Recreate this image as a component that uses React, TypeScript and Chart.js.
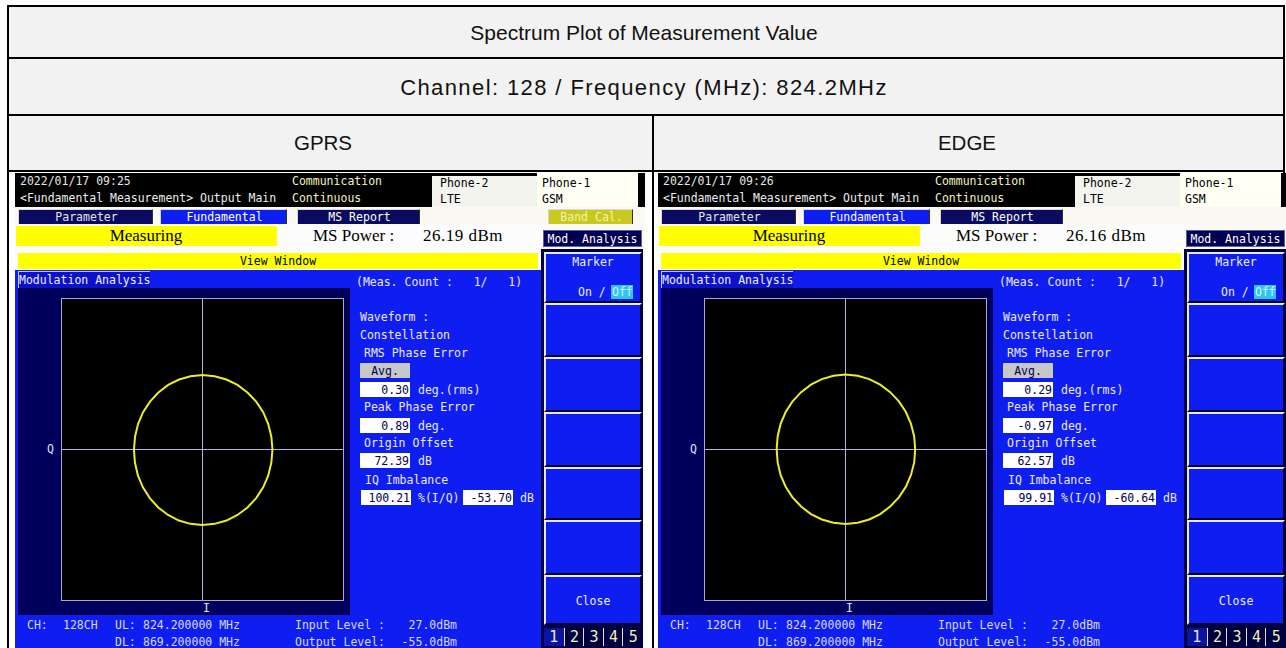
import React, { useEffect, useRef } from "react";
import { Chart, registerables } from "chart.js";
Chart.register(...registerables);

// ---------- data ----------
const tableTitle = "Spectrum Plot of Measurement Value";
const tableSubtitle = "Channel: 128 / Frequency (MHz): 824.2MHz";
const modes = ["GPRS", "EDGE"];
const timestamps = ["2022/01/17 09:25", "2022/01/17 09:26"];
const msPower = ["26.19", "26.16"];
const rmsPhaseError = ["0.30", "0.29"];
const peakPhaseError = ["0.89", "-0.97"];
const originOffset = ["72.39", "62.57"];
const iqImbalancePct = ["100.21", "99.91"];
const iqImbalanceDb = ["-53.70", "-60.64"];
const showBandCal = [true, false];
const pageNumbers = ["1", "2", "3", "4", "5"];

const gprsI = [0.498, 0.490, 0.468, 0.432, 0.382, 0.320, 0.249, 0.170, 0.086, 0.000, -0.085, -0.167, -0.244, -0.314, -0.374, -0.423, -0.459, -0.480, -0.488, -0.481, -0.460, -0.424, -0.375, -0.315, -0.245, -0.168, -0.086, 0.000, 0.087, 0.171, 0.249, 0.320, 0.382, 0.432, 0.468, 0.490, 0.498];
const gprsQ = [0.000, 0.086, 0.169, 0.248, 0.318, 0.379, 0.429, 0.465, 0.487, 0.495, 0.487, 0.465, 0.429, 0.379, 0.318, 0.248, 0.169, 0.086, 0.000, -0.087, -0.172, -0.251, -0.323, -0.385, -0.435, -0.472, -0.494, -0.502, -0.494, -0.472, -0.435, -0.385, -0.323, -0.251, -0.172, -0.087, 0.000];
const edgeI = [0.496, 0.489, 0.466, 0.430, 0.380, 0.318, 0.247, 0.169, 0.086, 0.000, -0.086, -0.168, -0.246, -0.316, -0.377, -0.426, -0.462, -0.483, -0.490, -0.483, -0.462, -0.426, -0.377, -0.316, -0.246, -0.168, -0.086, 0.000, 0.086, 0.169, 0.247, 0.318, 0.380, 0.430, 0.466, 0.489, 0.496];
const edgeQ = [0.000, 0.087, 0.170, 0.249, 0.320, 0.381, 0.431, 0.468, 0.490, 0.498, 0.490, 0.468, 0.431, 0.381, 0.320, 0.249, 0.170, 0.087, 0.000, -0.086, -0.169, -0.247, -0.318, -0.379, -0.429, -0.465, -0.487, -0.495, -0.487, -0.465, -0.429, -0.379, -0.318, -0.247, -0.169, -0.086, 0.000];
const traceI = [gprsI, edgeI];
const traceQ = [gprsQ, edgeQ];

// ---------- styling ----------
const mono = '"DejaVu Sans Mono", monospace';
const serif = '"Liberation Serif", serif';
const sans = '"Liberation Sans", Arial, sans-serif';
const BLUE = "#0f1ef0";
const NAVY = "#00005c";
const TABNAVY = "#0a0a60";
const LTXT = "#eee8ff";

function Txt(props: any) {
  const { x, y, children, color = "#fff", size = 11.5, font = mono, align, w = 200, style } = props;
  const s: any = {
    position: "absolute",
    top: y - 8,
    height: 16,
    lineHeight: "16px",
    fontFamily: font,
    fontSize: size,
    color,
    whiteSpace: "pre",
    ...style,
  };
  if (align === "center") {
    s.left = x - w / 2;
    s.width = w;
    s.textAlign = "center";
  } else if (align === "right") {
    s.left = x - w;
    s.width = w;
    s.textAlign = "right";
  } else s.left = x;
  return <div style={s}>{children}</div>;
}

function Box(props: any) {
  const { x, y, w, h, bg, style, children } = props;
  return (
    <div
      style={{
        position: "absolute",
        left: x,
        top: y,
        width: w,
        height: h,
        background: bg,
        boxSizing: "border-box",
        ...style,
      }}
    >
      {children}
    </div>
  );
}

function Constellation({ iVals, qVals }: { iVals: number[]; qVals: number[] }) {
  const ref = useRef<HTMLCanvasElement>(null);
  useEffect(() => {
    const gridColor = (c: any) =>
      c.tick && c.tick.value === 0 ? "#b4b4dc" : "rgba(0,0,0,0)";
    const axis = (): any => ({
      type: "linear",
      min: -1,
      max: 1,
      ticks: { display: false, stepSize: 1 },
      grid: { color: gridColor, drawTicks: false, lineWidth: 1 },
      border: { display: false },
    });
    const chart = new Chart(ref.current as HTMLCanvasElement, {
      type: "scatter",
      data: {
        datasets: [
          {
            data: iVals.map((v, k) => ({ x: v, y: qVals[k] })),
            showLine: true,
            borderColor: "#ecec2c",
            backgroundColor: "#ecec2c",
            borderWidth: 2,
            pointRadius: 0,
            tension: 0,
            fill: false,
          },
        ],
      },
      options: {
        responsive: false,
        maintainAspectRatio: false,
        animation: false,
        layout: { padding: 0 },
        plugins: { legend: { display: false }, tooltip: { enabled: false } },
        scales: { x: axis(), y: axis() },
      } as any,
    });
    return () => chart.destroy();
  }, [iVals, qVals]);
  return (
    <canvas
      ref={ref}
      width={281}
      height={301}
      style={{ display: "block", width: 281, height: 301, background: "#000" }}
    />
  );
}

function Tab({ x, w, label, bg, color }: any) {
  return (
    <Box
      x={x}
      y={36}
      w={w}
      h={15}
      bg={bg}
      style={{ borderTop: "1px solid #d8d8d8", borderLeft: "1px solid #d8d8d8", borderRight: "1px solid #303030" }}
    >
      <Txt x={w / 2} y={6.5} w={w} align="center" color={color}>
        {label}
      </Txt>
    </Box>
  );
}

function ValBox({ x, y, w = 50, text }: any) {
  return (
    <Box x={x} y={y} w={w} h={15} bg="#ffffff">
      <Txt x={w - 1} y={7.5} w={w} align="right" color="#000050">
        {text}
      </Txt>
    </Box>
  );
}

function SoftKey({ y, h, children }: any) {
  return (
    <Box
      x={529}
      y={y}
      w={98}
      h={h}
      bg={BLUE}
      style={{
        borderTop: "2px solid #e8e8ff",
        borderLeft: "2px solid #e8e8ff",
        borderRight: "2px solid #000030",
        borderBottom: "2px solid #000030",
      }}
    >
      {children}
    </Box>
  );
}

function Panel({ idx, left }: { idx: number; left: number }) {
  const keyTops = [79, 130, 184, 239, 294, 347, 402, 452];
  return (
    <div
      style={{
        position: "absolute",
        left,
        top: 173,
        width: 630,
        height: 475,
        overflow: "hidden",
        background: "#fbfbf6",
      }}
    >
      {/* header */}
      <Box x={0} y={0} w={630} h={34} bg="#000" />
      <Txt x={5} y={8} color="#e6e6e6">{timestamps[idx]}</Txt>
      <Txt x={5} y={25} color="#ececec">{"<Fundamental Measurement> Output Main"}</Txt>
      <Txt x={277} y={8} color="#f2f2c0">Communication</Txt>
      <Txt x={277} y={25} color="#f2f2c0">Continuous</Txt>
      <Box x={417} y={3} w={105} h={31} bg="#f4f4ee" />
      <Box x={522} y={0} w={101} h={34} bg="#fffff4" />
      <Txt x={425} y={10} color="#000">Phone-2</Txt>
      <Txt x={425} y={26} color="#000">LTE</Txt>
      <Txt x={527} y={10} color="#000">Phone-1</Txt>
      <Txt x={527} y={26} color="#000">GSM</Txt>

      {/* tabs */}
      <Box x={0} y={34} w={630} h={18} bg="#fafaf2" />
      <Tab x={3} w={135} label="Parameter" bg={TABNAVY} color="#e4e4e4" />
      <Tab x={145} w={127} label="Fundamental" bg={BLUE} color="#ffffff" />
      <Tab x={282} w={123} label="MS Report" bg={TABNAVY} color="#ffffff" />
      {showBandCal[idx] && <Tab x={533} w={85} label="Band Cal." bg="#c8c81e" color="#f4f4b0" />}

      {/* status row */}
      <Box x={0} y={52} w={528} h={45} bg="#fcfcfc" />
      <Box x={1} y={53} w={261} h={20} bg="#ffff00" />
      <Txt x={131} y={63} w={261} align="center" font={serif} size={17} color="#000">
        Measuring
      </Txt>
      <Txt x={298} y={63} font={serif} size={17} color="#000">{"MS Power :"}</Txt>
      <Txt x={408} y={63} font={serif} size={17} color="#000" style={{ letterSpacing: 0.5 }}>
        {msPower[idx] + " dBm"}
      </Txt>
      <Box x={3} y={80} w={520} h={16} bg="#ffff00" />
      <Txt x={263} y={88} w={300} align="center" color="#000">View Window</Txt>

      {/* main blue area */}
      <Box x={0} y={97} w={526} h={380} bg={BLUE} />
      <Box
        x={3}
        y={98}
        w={132}
        h={17}
        bg="#0b12c8"
        style={{ borderTop: "1px solid #c8c8e8", borderLeft: "1px solid #c8c8e8" }}
      />
      <Txt x={4} y={107} color="#f0f0ff">Modulation Analysis</Txt>
      <Txt x={341} y={109} color={LTXT}>{"(Meas. Count :   1/   1)"}</Txt>
      <Box x={3} y={115} w={332} h={327} bg={NAVY} />
      <Box x={46} y={125} w={283} h={303} bg="#000" style={{ border: "1px solid #a8a8d0" }}>
        <Constellation iVals={traceI[idx]} qVals={traceQ[idx]} />
      </Box>
      <Txt x={32} y={276} color="#e0e0ff">Q</Txt>
      <Txt x={188} y={435} color="#e0e0ff">I</Txt>

      {/* results */}
      <Txt x={345} y={144} color={LTXT}>{"Waveform :"}</Txt>
      <Txt x={345} y={162} color={LTXT}>Constellation</Txt>
      <Txt x={349} y={180} color={LTXT}>RMS Phase Error</Txt>
      <Box x={345} y={190} w={50} h={15} bg="#c8c8c8" />
      <Txt x={370} y={197.5} w={50} align="center" color="#000050">Avg.</Txt>
      <ValBox x={345} y={209} text={rmsPhaseError[idx]} />
      <Txt x={403} y={216.5} color={LTXT}>deg.(rms)</Txt>
      <Txt x={349} y={234} color={LTXT}>Peak Phase Error</Txt>
      <ValBox x={345} y={245} text={peakPhaseError[idx]} />
      <Txt x={403} y={252.5} color={LTXT}>deg.</Txt>
      <Txt x={349} y={270} color={LTXT}>Origin Offset</Txt>
      <ValBox x={345} y={280} text={originOffset[idx]} />
      <Txt x={403} y={287.5} color={LTXT}>dB</Txt>
      <Txt x={350} y={307} color={LTXT}>IQ Imbalance</Txt>
      <ValBox x={346} y={317} text={iqImbalancePct[idx]} />
      <Txt x={403} y={324.5} color={LTXT}>%(I/Q)</Txt>
      <ValBox x={448} y={317} text={iqImbalanceDb[idx]} />
      <Txt x={505} y={324.5} color={LTXT}>dB</Txt>

      {/* bottom info bar */}
      <Txt x={12} y={452} color="#d8d8ff">CH:</Txt>
      <Txt x={48} y={452} color="#d8d8ff">128CH</Txt>
      <Txt x={100} y={452} color="#d8d8ff">UL:</Txt>
      <Txt x={128} y={452} color="#d8d8ff">824.200000 MHz</Txt>
      <Txt x={100} y={469} color="#d8d8ff">DL:</Txt>
      <Txt x={128} y={469} color="#d8d8ff">869.200000 MHz</Txt>
      <Txt x={280} y={452} color="#d8d8ff">{"Input Level :"}</Txt>
      <Txt x={442} y={452} w={80} align="right" color="#d8d8ff">27.0dBm</Txt>
      <Txt x={280} y={469} color="#d8d8ff">{"Output Level:"}</Txt>
      <Txt x={442} y={469} w={80} align="right" color="#d8d8ff">-55.0dBm</Txt>

      {/* soft keys */}
      <Box x={526} y={76} w={102} h={400} bg="#000040" />
      <Box x={528} y={57} w={99} h={17} bg="#000050" style={{ border: "1px solid #6060b0" }} />
      <Txt x={577.5} y={65.5} w={99} align="center" color="#ffffff">Mod. Analysis</Txt>
      {keyTops.slice(0, 7).map((t, k) => (
        <SoftKey key={k} y={t} h={keyTops[k + 1] - t} />
      ))}
      <Txt x={578} y={89} w={98} align="center" color="#eeeeff">Marker</Txt>
      <Txt x={563} y={119} color="#eeeeff">{"On /"}</Txt>
      <Box x={596} y={112} w={22} h={14} bg="#30c4ee" />
      <Txt x={597} y={119} color="#d0f8ff">Off</Txt>
      <Txt x={578} y={428} w={98} align="center" color="#eeeeff">Close</Txt>
      <Box x={528} y={455} w={99} h={18} bg="#000040" />
      {pageNumbers.map((n, k) => (
        <Box
          key={n}
          x={529 + k * 19.6}
          y={455}
          w={19.6}
          h={18}
          bg={k === 0 ? "#0a14a0" : "#000040"}
          style={{ borderLeft: k === 0 ? "none" : "1px solid #e0e0e0" }}
        >
          <Txt x={9.8} y={9} w={19} align="center" size={15} color={k === 0 ? "#e8e8ff" : "#f4f0b8"}>
            {n}
          </Txt>
        </Box>
      ))}
    </div>
  );
}

export default function App() {
  const rowBg = "#f2f2f2";
  return (
    <div
      style={{
        position: "absolute",
        left: 0,
        top: 0,
        width: 1286,
        height: 648,
        overflow: "hidden",
        background: "#ffffff",
      }}
    >
      {/* table frame */}
      <Box x={7} y={5} w={1278} h={700} bg="#ffffff" style={{ border: "2px solid #000" }} />
      <Box x={9} y={7} w={1274} h={50} bg={rowBg} />
      <Box x={7} y={57} w={1278} h={2} bg="#000" />
      <Box x={9} y={59} w={1274} h={55} bg={rowBg} />
      <Box x={7} y={114} w={1278} h={2} bg="#000" />
      <Box x={9} y={116} w={1274} h={54} bg={rowBg} />
      <Box x={7} y={170} w={1278} h={2} bg="#000" />
      <Box x={652} y={116} w={2} h={540} bg="#000" />

      <Txt x={644} y={33} w={800} align="center" font={sans} size={21} color="#111">
        {tableTitle}
      </Txt>
      <Txt x={644} y={88} w={800} align="center" font={sans} size={22} color="#111" style={{ letterSpacing: 1.4 }}>
        {tableSubtitle}
      </Txt>
      <Txt x={323} y={143} w={400} align="center" font={sans} size={20.5} color="#111">
        {modes[0]}
      </Txt>
      <Txt x={967} y={143} w={400} align="center" font={sans} size={20.5} color="#111">
        {modes[1]}
      </Txt>

      <Panel idx={0} left={15} />
      <Panel idx={1} left={658} />
    </div>
  );
}
